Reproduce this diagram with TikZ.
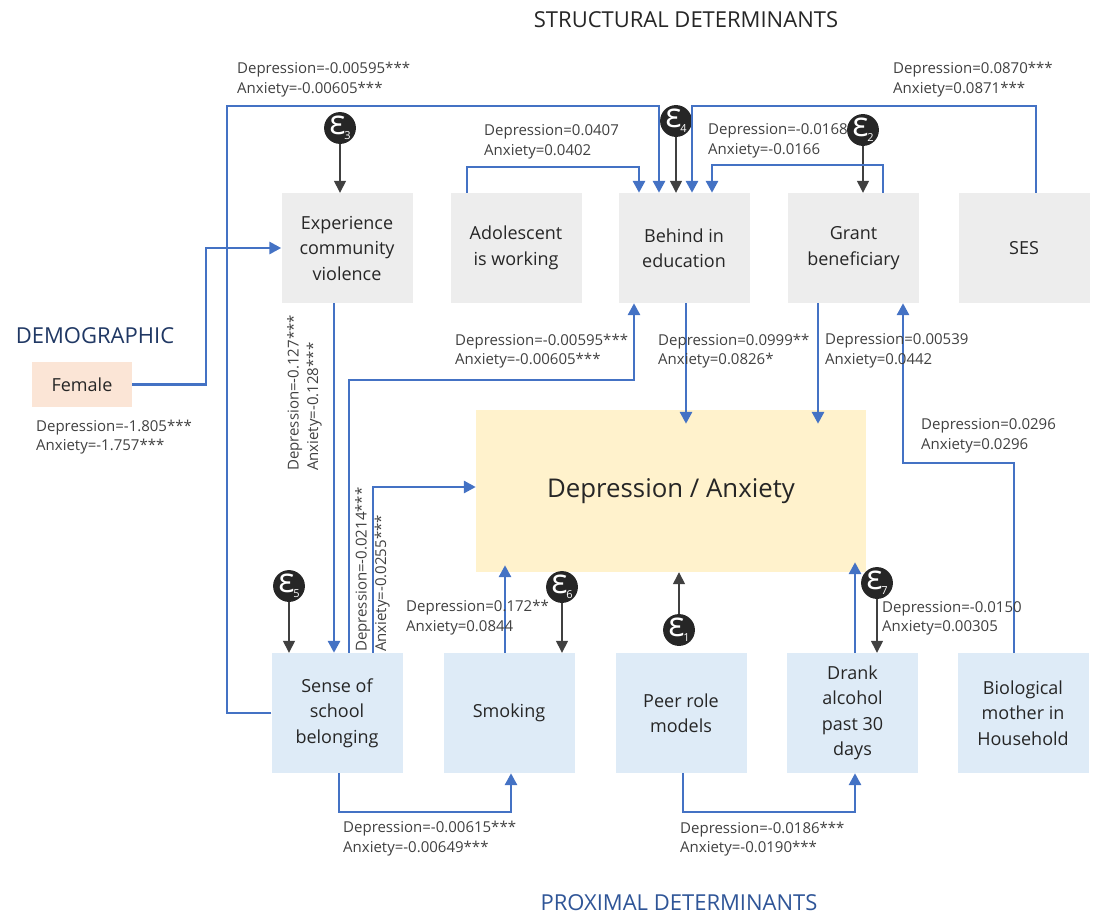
\documentclass[tikz,border=0pt]{standalone}
\usepackage{fontspec}
\setmainfont{Open Sans}
\usetikzlibrary{arrows.meta,calc}
\definecolor{lnblue}{HTML}{4472C4}
\definecolor{boxgray}{HTML}{EDEDED}
\definecolor{boxblue}{HTML}{DEEBF7}
\definecolor{boxpeach}{HTML}{FBE5D6}
\definecolor{boxyel}{HTML}{FFF2CC}
\definecolor{epsfill}{HTML}{262626}
\definecolor{labtxt}{HTML}{404040}
\definecolor{navy}{HTML}{203864}
\definecolor{proxblue}{HTML}{2F5597}
\newcommand{\epsl}[1]{{\fontsize{34}{34}\selectfont ε}\kern-1pt\raisebox{-5pt}{\fontsize{11}{11}\selectfont #1}}
\begin{document}
\begin{tikzpicture}[x=1pt,y=-1pt,
  sbox/.style={minimum width=131pt,minimum height=110pt,inner sep=2pt,align=center,text=black!85,font=\fontsize{18}{25.5}\selectfont},
  topbox/.style={sbox,fill=boxgray},
  botbox/.style={sbox,fill=boxblue,minimum height=120pt},
  lab/.style={inner sep=0pt,align=left,text=labtxt,font=\fontsize{15}{19.5}\selectfont},
  eps/.style={circle,fill=epsfill,text=white,minimum size=30pt,inner sep=0pt},
  barrow/.style={draw=lnblue,line width=2.9pt,-{Triangle[length=12pt,width=12pt]}},
  garrow/.style={draw=black!75,line width=1.4pt,-{Triangle[length=12pt,width=12pt]}},
  title/.style={inner sep=0pt,font=\fontsize{22}{26}\selectfont}
]
\useasboundingbox (0,0) rectangle (1094,916);

% titles
\node[title,text=black!85] (tstruct) at (686,20) {STRUCTURAL DETERMINANTS};
\node[title,text=proxblue] (tprox) at (679,903) {PROXIMAL DETERMINANTS};
\node[title,text=navy] (tdemo) at (95,336) {DEMOGRAPHIC};

% top row
\node[topbox] (exp) at (347,248) {Experience\\community\\violence};
\node[topbox] (ado) at (516,248) {Adolescent\\is working};
\node[topbox] (beh) at (684,248) {Behind in\\education};
\node[topbox] (gra) at (853.5,248) {Grant\\beneficiary};
\node[topbox] (ses) at (1024,248) {SES};

% bottom row
\node[botbox] (sen) at (337,713) {Sense of\\school\\belonging};
\node[botbox] (smk) at (509,713) {Smoking};
\node[botbox] (peer) at (681,713) {Peer role\\models};
\node[botbox] (drk) at (852.5,713) {Drank\\alcohol\\past 30\\days};
\node[botbox] (bio) at (1023,713) {Biological\\mother in\\Household};

% female and outcome
\node[sbox,fill=boxpeach,minimum width=100pt,minimum height=45pt] (fem) at (82,384.5) {Female};
\node[fill=boxyel,minimum width=390pt,minimum height=162pt,inner sep=0pt,text=black!85,font=\fontsize{25.8}{30}\selectfont] (da) at (671,491) {Depression / Anxiety};

% epsilons
\node[eps] (e3) at (340,128) {\epsl{3}};
\node[eps] (e4) at (676,121) {\epsl{4}};
\node[eps] (e2) at (863,130) {\epsl{2}};
\node[eps] (e5) at (289,586) {\epsl{5}};
\node[eps] (e6) at (562,587) {\epsl{6}};
\node[eps] (e1) at (679,630) {\epsl{1}};
\node[eps] (e7) at (877,583) {\epsl{7}};

\draw[garrow] (e3) -- (e3 |- exp.north);
\draw[garrow] (e4) -- (e4 |- beh.north);
\draw[garrow] (e2) -- (e2 |- gra.north);
\draw[garrow] (e5) -- (e5 |- sen.north);
\draw[garrow] (e6) -- (e6 |- smk.north);
\draw[garrow] (e1) -- (e1 |- da.south);
\draw[garrow] (e7) -- (e7 |- drk.north);

% blue connectors
\draw[barrow] (fem.east) -| (206,248) -- (exp.west);
\draw[barrow] (sen.west) -| (227,106) -| ([xshift=-25pt]beh.north);
\draw[barrow] ([xshift=-49pt]ado.north) |- (639,167) -- ([xshift=-45pt]beh.north);
\draw[barrow] ([xshift=12pt]ses.north) |- (692,106) -- ([xshift=8pt]beh.north);
\draw[barrow] ([xshift=29.5pt]gra.north) |- (712,165) -- ([xshift=28pt]beh.north);
\draw[barrow] ([xshift=-13pt]exp.south) -- ([xshift=-13pt]exp.south |- sen.north);
\draw[barrow] ([xshift=12pt]sen.north) |- (634,380) -- ([xshift=-50pt]beh.south);
\draw[barrow] ([xshift=36pt]sen.north) |- ([yshift=4pt]da.west);
\draw[barrow,shorten >=-7pt] ([xshift=-4pt]smk.north) -- ([xshift=-4pt]smk.north |- da.south);
\draw[barrow,shorten >=-14pt] ([xshift=2pt]beh.south) -- ([xshift=2pt]beh.south |- da.north);
\draw[barrow,shorten >=-14pt] ([xshift=-35.5pt]gra.south) -- ([xshift=-35.5pt]gra.south |- da.north);
\draw[barrow] ([xshift=-9pt]bio.north) |- (903,463) -- ([xshift=49.5pt]gra.south);
\draw[barrow,shorten >=-10pt] ([xshift=2.5pt]drk.north) -- ([xshift=2.5pt]drk.north |- da.south);
\draw[barrow] ([xshift=2pt]sen.south) |- (511,812) -- ([xshift=2pt]smk.south);
\draw[barrow] ([xshift=2pt]peer.south) |- (855,812) -- ([xshift=2.5pt]drk.south);

% labels
\node[lab,anchor=west] (l1) at (237,79.5) {Depression=-0.00595***\\Anxiety=-0.00605***};
\node[lab,anchor=west] (l2) at (484,142) {Depression=0.0407\\Anxiety=0.0402};
\node[lab,anchor=west] (l3) at (708,141) {Depression=-0.0168\\Anxiety=-0.0166};
\node[lab,anchor=west] (l4) at (893,79.5) {Depression=0.0870***\\Anxiety=0.0871***};
\node[lab,anchor=west] (l5) at (36,437) {Depression=-1.805***\\Anxiety=-1.757***};
\node[lab,rotate=90,anchor=north west] (l6) at (287,471) {Depression=-0.127***\\Anxiety=-0.128***};
\node[lab,rotate=90,anchor=north west] (l7) at (355,652) {Depression=-0.0214***\\Anxiety=-0.0255***};
\node[lab,anchor=west] (l8) at (406,617.5) {Depression=0.172**\\Anxiety=0.0844};
\node[lab,anchor=west] (l9) at (455,351) {Depression=-0.00595***\\Anxiety=-0.00605***};
\node[lab,anchor=west] (l10) at (658,351) {Depression=0.0999**\\Anxiety=0.0826*};
\node[lab,anchor=west] (l11) at (825,351) {Depression=0.00539\\Anxiety=0.0442};
\node[lab,anchor=west] (l12) at (921,436) {Depression=0.0296\\Anxiety=0.0296};
\node[lab,anchor=west] (l13) at (882,618.5) {Depression=-0.0150\\Anxiety=0.00305};
\node[lab,anchor=west] (l14) at (343,838.5) {Depression=-0.00615***\\Anxiety=-0.00649***};
\node[lab,anchor=west] (l15) at (680,839) {Depression=-0.0186***\\Anxiety=-0.0190***};
\end{tikzpicture}
\end{document}
